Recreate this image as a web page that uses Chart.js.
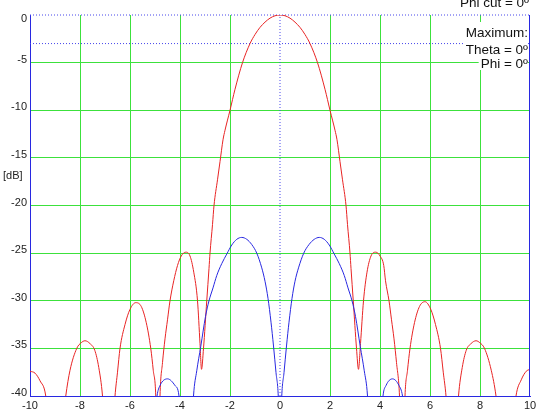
<!DOCTYPE html>
<html>
<head>
<meta charset="utf-8">
<script src="https://cdn.jsdelivr.net/npm/chart.js@4"></script>
<style>
  html, body { margin: 0; padding: 0; background: #fff; }
  #wrap { width: 536px; height: 411px; }
</style>
</head>
<body>
<div id="wrap"><canvas id="pattern" width="536" height="411"></canvas></div>
<script>
// DATA

// co-polar cut (red)
var coTheta = [-10, -9.8, -9.6, -9.37, -9.0, -8.57, -8.4, -8.13, -7.95, -7.8, -7.6, -7.41, -7.25, -7.1, -6.85,
  -6.6, -6.5, -6.4, -6.2, -6.0, -5.77, -5.55, -5.35, -5.17, -5.07, -4.97, -4.88, -4.8, -4.7, -4.6, -4.5, -4.4,
  -4.25, -4.1, -3.95, -3.77, -3.6, -3.45, -3.3, -3.2, -3.14, -3.06, -2.93, -2.84, -2.8, -2.7, -2.64, -2.5, -2.4,
  -2.28, -2.2, -2.0, -1.8, -1.5, -1.2, -1.0, -0.8, -0.6, -0.4, -0.2, 0,
  0.2, 0.4, 0.6, 0.8, 1.0, 1.2, 1.5, 1.8, 2.0, 2.2, 2.28, 2.4, 2.5, 2.64, 2.7, 2.8, 2.84, 2.93, 3.06, 3.14,
  3.22, 3.34, 3.48, 3.64, 3.83, 4.0, 4.15, 4.22, 4.36, 4.46, 4.56, 4.66, 4.78, 4.9, 5.0, 5.1, 5.2, 5.38, 5.58,
  5.8, 6.03, 6.22, 6.42, 6.53, 6.64, 6.9, 7.14, 7.29, 7.45, 7.64, 7.84, 7.99, 8.18, 8.45, 8.64, 9.05, 9.44,
  9.65, 9.85, 10];
var coLevel = [-37.4, -37.6, -38.4, -40, -50, -40, -37.3, -35, -34.4, -34.2, -34.5, -35.2, -37, -40, -50,
  -40, -37.5, -35, -32.5, -30.9, -30.2, -30.6, -32.3, -35, -37.3, -40, -50, -40, -36.5, -34, -32, -30,
  -27.9, -26.3, -25.3, -24.9, -25.3, -27, -30, -34.5, -37.2, -35, -30, -26.6, -25, -22, -20, -17.3, -15.4,
  -13.1, -12.1, -10, -7.8, -5, -3, -2.05, -1.3, -0.75, -0.33, -0.08, 0,
  -0.08, -0.33, -0.75, -1.3, -2.05, -3, -5, -7.8, -10, -12.1, -13.1, -15.4, -17.3, -20, -22, -25, -26.6, -30, -35, -37.2,
  -34.5, -30, -27, -25.3, -24.9, -25.3, -26.3, -27.9, -30, -32, -34, -36.5, -40, -50, -40, -37.3, -35, -32.3, -30.6,
  -30.1, -30.9, -32.5, -35, -37.5, -40, -50, -40, -37, -35.2, -34.5, -34.2, -34.4, -35, -37.3, -40, -50, -40,
  -38.3, -37.4, -37.2];

// cross-polar cut (blue)
var xpTheta = [-10, -5.3, -4.92, -4.8, -4.5, -4.2, -4.04, -3.8, -3.55, -3.46, -3.33, -3.17, -2.98, -2.84, -2.68,
  -2.53, -2.33, -2.13, -1.93, -1.73, -1.53, -1.33, -1.13, -0.93, -0.73, -0.6, -0.48, -0.36, -0.26, -0.16, -0.07, 0,
  0.07, 0.16, 0.26, 0.36, 0.48, 0.6, 0.74, 0.95, 1.16, 1.37, 1.57, 1.77, 1.97, 2.17, 2.37, 2.57, 2.72, 2.88,
  3.02, 3.21, 3.37, 3.5, 3.59, 3.85, 4.12, 4.24, 4.5, 4.76, 4.9, 5.3, 10];
var xpLevel = [-60, -50, -40, -38.9, -38.2, -38.9, -40, -50, -45, -40, -37.35, -34.8, -31.65, -30, -28.65,
  -27.35, -26.1, -25.1, -24.15, -23.55, -23.35, -23.55, -24.1, -25, -26.55, -27.95, -29.75, -32.25, -34.75, -37.55, -40, -46,
  -40, -37.55, -34.75, -32.25, -29.75, -27.95, -26.55, -25, -24.1, -23.55, -23.35, -23.55, -24.15, -25.1, -26.1, -27.35, -28.65, -30,
  -31.65, -34.8, -37.35, -40, -45, -50, -40, -38.9, -38.2, -38.9, -40, -50, -60];

// axis ticks
var thetaTicks = [-10, -8, -6, -4, -2, 0, 2, 4, 6, 8, 10];
var dbTicks = [-40, -35, -30, -25, -20, -15, -10, -5, 0];

// maximum markers
var maxTheta = 0;
var maxLevel = 0;
var halfPowerLevel = -3;

var noteLines = ['Maximum:', 'Theta = 0º', 'Phi = 0º'];
var cutTitle = 'Phi cut = 0º';

// STYLES
var RED = 'rgb(232, 36, 36)';
var BLUE = 'rgb(40, 40, 225)';
var DOTS = 'rgb(70, 70, 235)';
var GRID = 'rgb(60, 225, 60)';
var FONT = "'Liberation Sans', Arial, sans-serif";

function pairs(xs, ys) {
  return xs.map(function (x, i) { return { x: x, y: ys[i] }; });
}

var thetaMin = thetaTicks[0], thetaMax = thetaTicks[thetaTicks.length - 1];
var dbMin = dbTicks[0], dbMax = dbTicks[dbTicks.length - 1];

var notes = {
  id: 'notes',
  afterDraw: function (chart) {
    var c = chart.ctx, a = chart.chartArea;
    var xr = Math.round(chart.scales.x.getPixelForValue(thetaMax)) - 0.5;
    c.save();

    // right frame line
    c.strokeStyle = BLUE;
    c.lineWidth = 1;
    c.beginPath();
    c.moveTo(xr, a.top);
    c.lineTo(xr, a.bottom);
    c.stroke();

    // maximum box, one background per line
    c.font = '13.5px ' + FONT;
    c.textAlign = 'right';
    c.textBaseline = 'alphabetic';
    var base = [37, 54, 68];
    var bgTop = [22, 41, 56];
    var bgBot = [41, 56, 70];
    for (var i = 0; i < noteLines.length; i++) {
      var w = c.measureText(noteLines[i]).width;
      c.fillStyle = '#fff';
      c.fillRect(528 - w - 2, bgTop[i], w + 2, bgBot[i] - bgTop[i]);
      c.fillStyle = '#111';
      c.fillText(noteLines[i], 528, base[i]);
    }

    c.fillText(cutTitle, 529, 7);

    // y axis unit
    c.font = '11px ' + FONT;
    c.textAlign = 'left';
    c.textBaseline = 'middle';
    c.fillStyle = '#222';
    c.fillText('[dB]', 3, 176);

    c.restore();
  }
};

function gridColor(hidden) {
  return function (c) {
    if (c.tick && hidden.indexOf(c.tick.value) >= 0) return 'rgba(0,0,0,0)';
    return GRID;
  };
}

document.addEventListener('DOMContentLoaded', function () {
  var ctx = document.getElementById('pattern').getContext('2d');

  var chart = new Chart(ctx, {
    type: 'line',
    data: {
      datasets: [{
        label: 'cross-polar',
        data: pairs(xpTheta, xpLevel),
        borderColor: BLUE,
        borderWidth: 1,
        pointRadius: 0,
        cubicInterpolationMode: 'monotone'
      }, {
        label: 'co-polar',
        data: pairs(coTheta, coLevel),
        borderColor: RED,
        borderWidth: 1,
        pointRadius: 0,
        cubicInterpolationMode: 'monotone'
      }, {
        label: 'max',
        data: [{ x: thetaMin, y: maxLevel }, { x: thetaMax, y: maxLevel }],
        borderColor: DOTS,
        borderWidth: 1,
        borderDash: [1, 2],
        pointRadius: 0,
        clip: false
      }, {
        label: '-3 dB',
        data: [{ x: thetaMin, y: halfPowerLevel }, { x: thetaMax, y: halfPowerLevel }],
        borderColor: DOTS,
        borderWidth: 1,
        borderDash: [1, 2],
        pointRadius: 0,
        clip: false
      }, {
        label: 'theta max',
        data: [{ x: maxTheta, y: dbMin }, { x: maxTheta, y: dbMax }],
        borderColor: DOTS,
        borderWidth: 1,
        borderDash: [1, 2],
        pointRadius: 0,
        clip: false
      }]
    },
    options: {
      responsive: false,
      animation: false,
      devicePixelRatio: 1,
      layout: { padding: { top: 15, right: 6, left: 0, bottom: 0 } },
      plugins: {
        legend: { display: false },
        tooltip: { enabled: false }
      },
      scales: {
        x: {
          type: 'linear',
          min: thetaMin,
          max: thetaMax,
          afterBuildTicks: function (s) { s.ticks = thetaTicks.map(function (v) { return { value: v }; }); },
          afterFit: function (s) { s.height = 15; s.paddingLeft = 0; s.paddingRight = 0; },
          grid: {
            drawTicks: false,
            color: gridColor([maxTheta, thetaMin, thetaMax])
          },
          border: { color: BLUE, width: 1 },
          ticks: {
            maxRotation: 0,
            autoSkip: false,
            padding: 3,
            color: '#222',
            font: { family: FONT, size: 11 }
          }
        },
        y: {
          type: 'linear',
          min: dbMin,
          max: dbMax,
          afterBuildTicks: function (s) { s.ticks = dbTicks.map(function (v) { return { value: v }; }); },
          afterFit: function (s) { s.width = 30; s.paddingTop = 0; s.paddingBottom = 0; },
          grid: {
            drawTicks: false,
            color: gridColor([maxLevel, dbMin])
          },
          border: { color: BLUE, width: 1 },
          ticks: {
            autoSkip: false,
            padding: 3,
            labelOffset: -3,
            color: '#222',
            font: { family: FONT, size: 11 },
            // top label sits below the frame edge, as in the original
            callback: function (v) { return v === dbMax ? ['', String(v)] : String(v); }
          }
        }
      }
    },
    plugins: [notes]
  });
});
</script>
</body>
</html>
